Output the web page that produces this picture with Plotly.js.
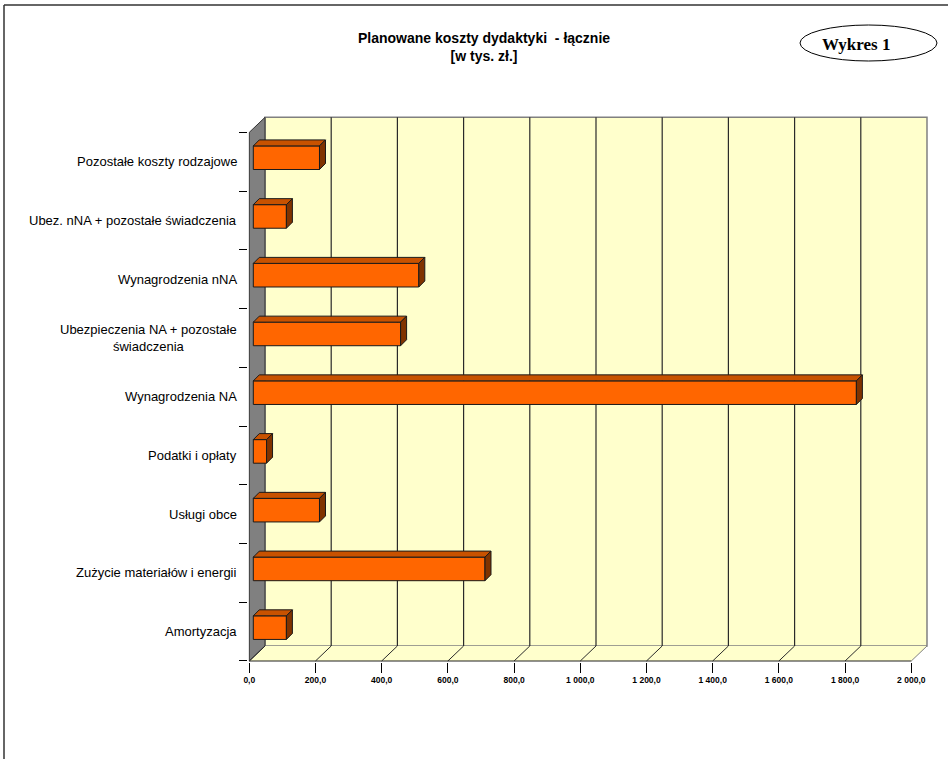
<!DOCTYPE html>
<html>
<head>
<meta charset="utf-8">
<script src="https://cdn.plot.ly/plotly-3.0.1.min.js"></script>
<style>html,body{margin:0;padding:0;background:#fff;}#chart{width:948px;height:759px;}</style>
</head>
<body>
<div id="chart"></div>
<script>
// ---- data ----
const categories = [
  'Amortyzacja',
  'Zużycie materiałów i energii',
  'Usługi obce',
  'Podatki i opłaty',
  'Wynagrodzenia NA',
  'Ubezpieczenia NA + pozostałe<br>świadczenia',
  'Wynagrodzenia nNA',
  'Ubez. nNA + pozostałe świadczenia',
  'Pozostałe koszty rodzajowe'
];
const values = [100, 700, 200, 40, 1822, 445, 500, 100, 200];
const tickValues = [0, 200, 400, 600, 800, 1000, 1200, 1400, 1600, 1800, 2000];
const tickLabels = ['0,0', '200,0', '400,0', '600,0', '800,0', '1 000,0', '1 200,0', '1 400,0', '1 600,0', '1 800,0', '2 000,0'];
const titleText = 'Planowane koszty dydaktyki  - łącznie<br>[w tys. zł.]';
const badgeText = 'Wykres 1';

// ---- geometry (pixels) ----
const W = 948, H = 759;
const X0 = 249.3;            // pixel of value 0 on front plane
const PXU = 662 / 2000;      // pixels per value unit
const YBOT = 661;            // pixel of front floor edge
const SLOT = 58.74;          // pixel height per category
const XMIN = -3, XMAX = 2060, YMIN = -0.52, YMAX = 8.8;
const kx = 1 / PXU, ky = 1 / SLOT;
const WDX = 15.7 * kx, WDY = 15 * ky;     // wall depth
const BD = 4, BT = 6, BH = 23.6;          // bar depth offset, thickness, height (px)
const vmax = tickValues[tickValues.length - 1];

const xd0 = (X0 + XMIN * PXU) / W, xd1 = (X0 + XMAX * PXU) / W;
const ypxBottom = YBOT - (YMIN + 0.5) * SLOT;
const ypxTop = YBOT - (YMAX + 0.5) * SLOT;
const yd0 = (H - ypxBottom) / H, yd1 = (H - ypxTop) / H;

const font = '"Liberation Sans", Arial, sans-serif';
const yIdx = categories.map((c, i) => i);
const base = BD * kx;
const bw = BH * ky;

const traces = [];
traces.push({
  type: 'bar', orientation: 'h',
  y: yIdx.map(i => i + BD * ky),
  x: values,
  base: values.map(() => base),
  width: bw,
  marker: {color: '#FF6600', line: {color: '#1a1a1a', width: 1}},
  hoverinfo: 'skip', showlegend: false
});
values.forEach((v, i) => {
  const yc = i + BD * ky;
  const yt = yc + bw / 2, yb = yc - bw / 2;
  const ox = BT * kx, oy = BT * ky;
  traces.push({
    type: 'scatter', mode: 'lines', fill: 'toself', fillcolor: '#C85200',
    x: [base, base + v, base + v + ox, base + ox, base],
    y: [yt, yt, yt + oy, yt + oy, yt],
    line: {color: '#1a1a1a', width: 1}, hoverinfo: 'skip', showlegend: false
  });
  traces.push({
    type: 'scatter', mode: 'lines', fill: 'toself', fillcolor: '#803300',
    x: [base + v, base + v + ox, base + v + ox, base + v, base + v],
    y: [yb, yb + oy, yt + oy, yt, yb],
    line: {color: '#1a1a1a', width: 1}, hoverinfo: 'skip', showlegend: false
  });
});

const shapes = [];
// back wall
shapes.push({type: 'rect', xref: 'x', yref: 'y', layer: 'below',
  x0: WDX, x1: vmax + WDX, y0: -0.5 + WDY, y1: 8.5 + WDY,
  fillcolor: '#FFFFCC', line: {color: '#808080', width: 1.5}});
// floor
shapes.push({type: 'path', xref: 'x', yref: 'y', layer: 'below',
  path: `M 0,-0.5 L ${vmax},-0.5 L ${vmax + WDX},${-0.5 + WDY} L ${WDX},${-0.5 + WDY} Z`,
  fillcolor: '#FFFFCC', line: {width: 0}});
// left wall
shapes.push({type: 'path', xref: 'x', yref: 'y', layer: 'below',
  path: `M 0,-0.5 L ${WDX},${-0.5 + WDY} L ${WDX},${8.5 + WDY} L 0,8.5 Z`,
  fillcolor: '#808080', line: {color: '#333333', width: 1}});
// gridlines on back wall and floor
tickValues.forEach(g => {
  if (g > 0 && g < vmax) {
    shapes.push({type: 'line', xref: 'x', yref: 'y', layer: 'below',
      x0: g + WDX, x1: g + WDX, y0: -0.5 + WDY, y1: 8.5 + WDY,
      line: {color: '#2a2a2a', width: 1.2}});
  }
  shapes.push({type: 'line', xref: 'x', yref: 'y', layer: 'below',
    x0: g, x1: g + WDX, y0: -0.5, y1: -0.5 + WDY,
    line: {color: g === vmax ? '#808080' : '#2a2a2a', width: 1}});
});
// front floor edge
shapes.push({type: 'line', xref: 'x', yref: 'y', layer: 'below',
  x0: 0, x1: vmax, y0: -0.5, y1: -0.5, line: {color: '#222', width: 1.2}});
// frame
shapes.push({type: 'line', xref: 'paper', yref: 'paper', x0: 4 / W, x1: 4 / W, y0: 0, y1: (H - 5) / H,
  line: {color: '#333', width: 1.5}});
shapes.push({type: 'line', xref: 'paper', yref: 'paper', x0: 4 / W, x1: 1, y0: (H - 5) / H, y1: (H - 5) / H,
  line: {color: '#333', width: 1.5}});
// badge ellipse
shapes.push({type: 'circle', xref: 'paper', yref: 'paper',
  x0: 800 / W, x1: 937 / W, y0: (H - 61) / H, y1: (H - 25) / H,
  line: {color: '#000', width: 1}});

const annotations = categories.map((c, i) => ({
  xref: 'paper', yref: 'y', x: 239 / W, y: i, xanchor: 'right', yanchor: 'middle',
  text: c, align: 'center', showarrow: false,
  font: {family: font, size: 13, color: '#000'}
}));
annotations.push({
  xref: 'paper', yref: 'paper', x: 856 / W, y: (H - 44.5) / H, xanchor: 'center', yanchor: 'middle',
  text: badgeText, showarrow: false,
  font: {family: '"Liberation Serif", "Times New Roman", serif', size: 17, color: '#000', weight: 'bold'}
});
// chart title
annotations.push({
  xref: 'paper', yref: 'paper', x: 484 / W, y: (H - 47) / H, xanchor: 'center', yanchor: 'middle',
  text: titleText, showarrow: false, align: 'center',
  font: {family: font, size: 14, color: '#000', weight: 'bold'}
});

const layout = {
  width: W, height: H,
  margin: {l: 0, r: 0, t: 0, b: 0},
  paper_bgcolor: '#fff', plot_bgcolor: 'rgba(0,0,0,0)',
  showlegend: false,
  xaxis: {domain: [xd0, xd1], range: [XMIN, XMAX], showgrid: false, zeroline: false, showline: false,
    tickmode: 'array', tickvals: tickValues, ticktext: tickLabels, ticks: 'outside', ticklen: 10, tickcolor: '#000', tickwidth: 1,
    tickfont: {family: font, size: 8.5, color: '#000', weight: 'bold'}, fixedrange: true},
  yaxis: {domain: [yd0, yd1], range: [YMIN, YMAX], showgrid: false, zeroline: false, showline: false,
    tickmode: 'array', tickvals: categories.map((c, i) => i - 0.5).concat([categories.length - 0.5]),
    ticktext: categories.map(() => '').concat(['']), showticklabels: false,
    ticks: 'outside', ticklen: 8, tickcolor: '#000', tickwidth: 1, fixedrange: true},
  shapes: shapes,
  annotations: annotations,
  bargap: 0
};

Plotly.newPlot('chart', traces, layout, {staticPlot: true, displayModeBar: false});
</script>
</body>
</html>
